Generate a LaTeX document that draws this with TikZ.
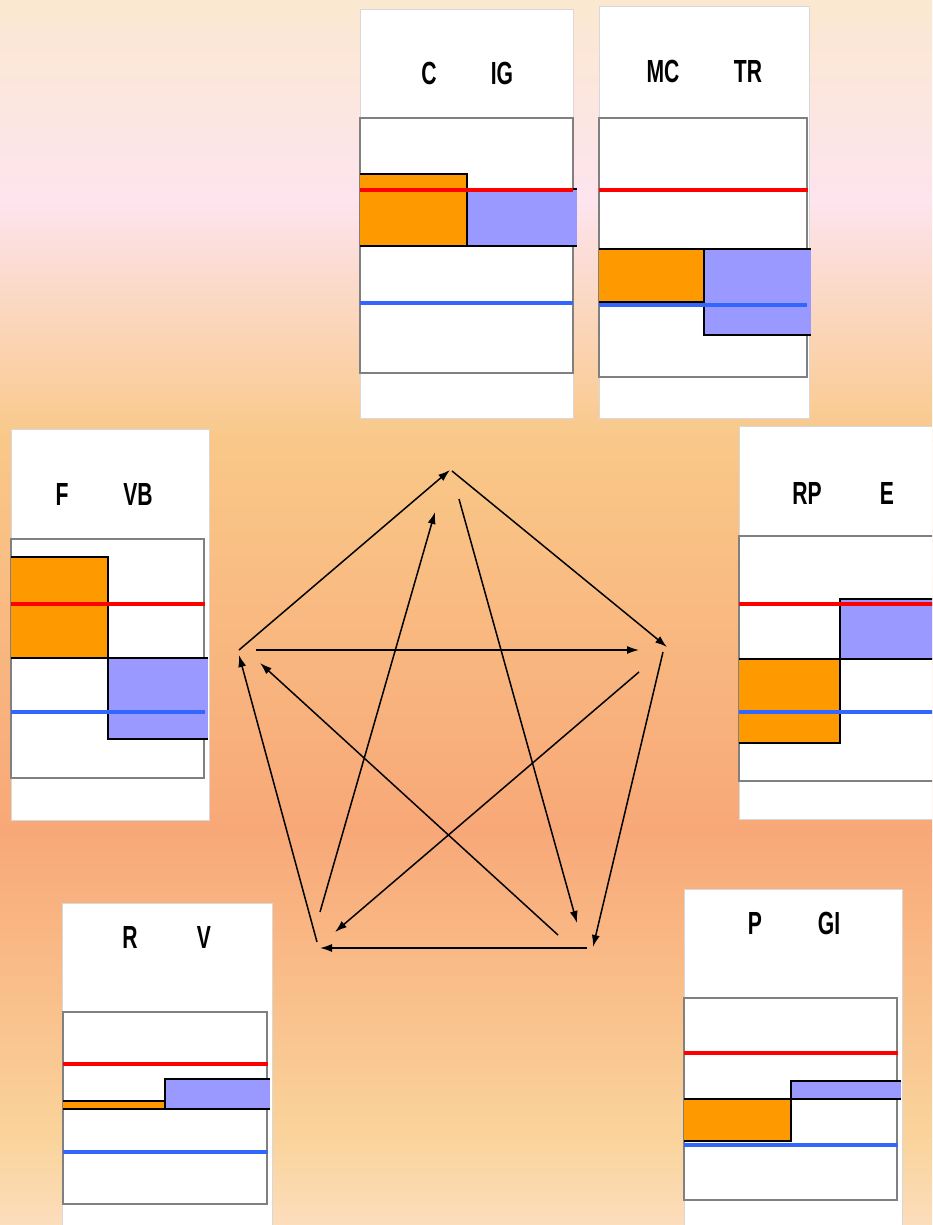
\documentclass[tikz,border=0pt]{standalone}
\usepackage{fontspec}
\usetikzlibrary{arrows.meta}
\newfontfamily\lab[FakeStretch=0.66]{Liberation Sans}
\definecolor{bg0}{HTML}{FBE8D0}
\definecolor{bg1}{HTML}{FDE4EE}
\definecolor{bg2}{HTML}{F9C888}
\definecolor{bg3}{HTML}{F8A878}
\definecolor{bg4}{HTML}{FAD49C}
\definecolor{bg5}{HTML}{FCDDBC}
\definecolor{barorange}{HTML}{FF9900}
\definecolor{barblue}{HTML}{9999FF}
\definecolor{lineblue}{HTML}{3366FF}
\definecolor{cardedge}{HTML}{D8D8D8}
\tikzset{
  card/.style={fill=white,draw=cardedge,line width=0.6pt},
  plotbox/.style={draw=gray,line width=2pt},
  obar/.style={fill=barorange},
  bbar/.style={fill=barblue},
  edge/.style={draw=black,line width=1.8pt},
  redline/.style={draw=red,line width=4pt},
  blueline/.style={draw=lineblue,line width=4pt},
  lbl/.style={font=\lab\bfseries\fontsize{32}{34}\selectfont,inner sep=0pt},
  arr/.style={draw=black,line width=1.5pt,-{Latex[length=12pt,width=8pt]}}
}
\begin{document}
\begin{tikzpicture}[x=1pt,y=-1pt]
\clip (0,0) rectangle (932,1225);
% background gradient
\shade[top color=bg0,bottom color=bg1] (0,0) rectangle (932,201);
\shade[top color=bg1,bottom color=bg2] (0,200) rectangle (932,441);
\shade[top color=bg2,bottom color=bg3] (0,440) rectangle (932,831);
\shade[top color=bg3,bottom color=bg4] (0,830) rectangle (932,1141);
\shade[top color=bg4,bottom color=bg5] (0,1140) rectangle (932,1225);

% ---- panel C / IG
\draw[card] (360,9) rectangle (573,418);
\draw[plotbox] (360,118) rectangle (573,373);
\fill[obar] (360,174) rectangle (467,246);
\fill[bbar] (467,189) rectangle (577,246);
\draw[edge] (360,174) -- (467,174) -- (467,246);
\draw[edge] (467,189) -- (577,189);
\draw[edge] (360,246) -- (577,246);
\draw[redline] (360,190) -- (573,190);
\draw[blueline] (360,303) -- (573,303);
\node[lbl] (lC) at (429,73) {C};
\node[lbl] (lIG) at (502,73) {IG};

% ---- panel MC / TR
\draw[card] (599,6) rectangle (809,418);
\draw[plotbox] (599,118) rectangle (807,377);
\fill[obar] (599,249) rectangle (704,302);
\fill[bbar] (704,249) rectangle (811,335);
\draw[edge] (599,249) -- (811,249);
\draw[edge] (704,249) -- (704,335) -- (811,335);
\draw[edge] (599,302) -- (704,302);
\draw[redline] (599,190) -- (808,190);
\draw[blueline] (599,305) -- (807,305);
\node[lbl] (lMC) at (663,71) {MC};
\node[lbl] (lTR) at (748,71) {TR};

% ---- panel F / VB
\draw[card] (11,429) rectangle (209,820);
\draw[plotbox] (11,539) rectangle (204,778);
\fill[obar] (11,557) rectangle (108,658);
\fill[bbar] (108,658) rectangle (208,739);
\draw[edge] (11,557) -- (108,557) -- (108,739) -- (208,739);
\draw[edge] (11,658) -- (208,658);
\draw[redline] (11,604) -- (205,604);
\draw[blueline] (11,712) -- (205,712);
\node[lbl] (lF) at (62,494) {F};
\node[lbl] (lVB) at (138,494) {VB};

% ---- panel RP / E
\draw[card] (739,426) rectangle (945,819);
\draw[plotbox] (739,536) rectangle (945,781);
\fill[bbar] (840,599) rectangle (945,659);
\fill[obar] (739,659) rectangle (840,743);
\draw[edge] (945,599) -- (840,599) -- (840,743) -- (739,743);
\draw[edge] (739,659) -- (945,659);
\draw[redline] (739,604) -- (945,604);
\draw[blueline] (739,712) -- (945,712);
\node[lbl] (lRP) at (807,493) {RP};
\node[lbl] (lE) at (887,493) {E};

% ---- panel R / V
\draw[card] (62,903) rectangle (272,1235);
\draw[plotbox] (63,1012) rectangle (267,1204);
\fill[obar] (63,1101) rectangle (165,1109);
\fill[bbar] (165,1079) rectangle (270,1109);
\draw[edge] (63,1101) -- (165,1101);
\draw[edge] (165,1109) -- (165,1079) -- (270,1079);
\draw[edge] (63,1109) -- (270,1109);
\draw[redline] (63,1064) -- (268,1064);
\draw[blueline] (63,1152) -- (268,1152);
\node[lbl] (lR) at (130,937) {R};
\node[lbl] (lV) at (204,937) {V};

% ---- panel P / GI
\draw[card] (684,889) rectangle (902,1235);
\draw[plotbox] (684,998) rectangle (897,1200);
\fill[bbar] (791,1081) rectangle (901,1099);
\fill[obar] (684,1099) rectangle (791,1141);
\draw[edge] (901,1081) -- (791,1081) -- (791,1141) -- (684,1141);
\draw[edge] (684,1099) -- (901,1099);
\draw[redline] (684,1053) -- (898,1053);
\draw[blueline] (684,1145) -- (898,1145);
\node[lbl] (lP) at (755,923) {P};
\node[lbl] (lGI) at (829,923) {GI};

% ---- pentagon of arrows
\coordinate (LT1) at (239,650);  \coordinate (LT2) at (450,470);
\coordinate (TR1) at (452,471);  \coordinate (TR2) at (667,647);
\coordinate (LR1) at (256,650);  \coordinate (LR2) at (639,650);
\coordinate (RB1) at (663,652);  \coordinate (RB2) at (593,947);
\coordinate (BB1) at (587,948);  \coordinate (BB2) at (320,948);
\coordinate (BL1) at (317,942);  \coordinate (BL2) at (239,655);
\coordinate (BT1) at (320,912);  \coordinate (BT2) at (435,512);
\coordinate (TB1) at (459,499);  \coordinate (TB2) at (577,923);
\coordinate (RL1) at (639,672);  \coordinate (RL2) at (335,932);
\coordinate (XL1) at (558,935);  \coordinate (XL2) at (260,663);
\draw[arr] (LT1) -- (LT2);
\draw[arr] (TR1) -- (TR2);
\draw[arr] (LR1) -- (LR2);
\draw[arr] (RB1) -- (RB2);
\draw[arr] (BB1) -- (BB2);
\draw[arr] (BL1) -- (BL2);
\draw[arr] (BT1) -- (BT2);
\draw[arr] (TB1) -- (TB2);
\draw[arr] (RL1) -- (RL2);
\draw[arr] (XL1) -- (XL2);
\end{tikzpicture}
\end{document}
